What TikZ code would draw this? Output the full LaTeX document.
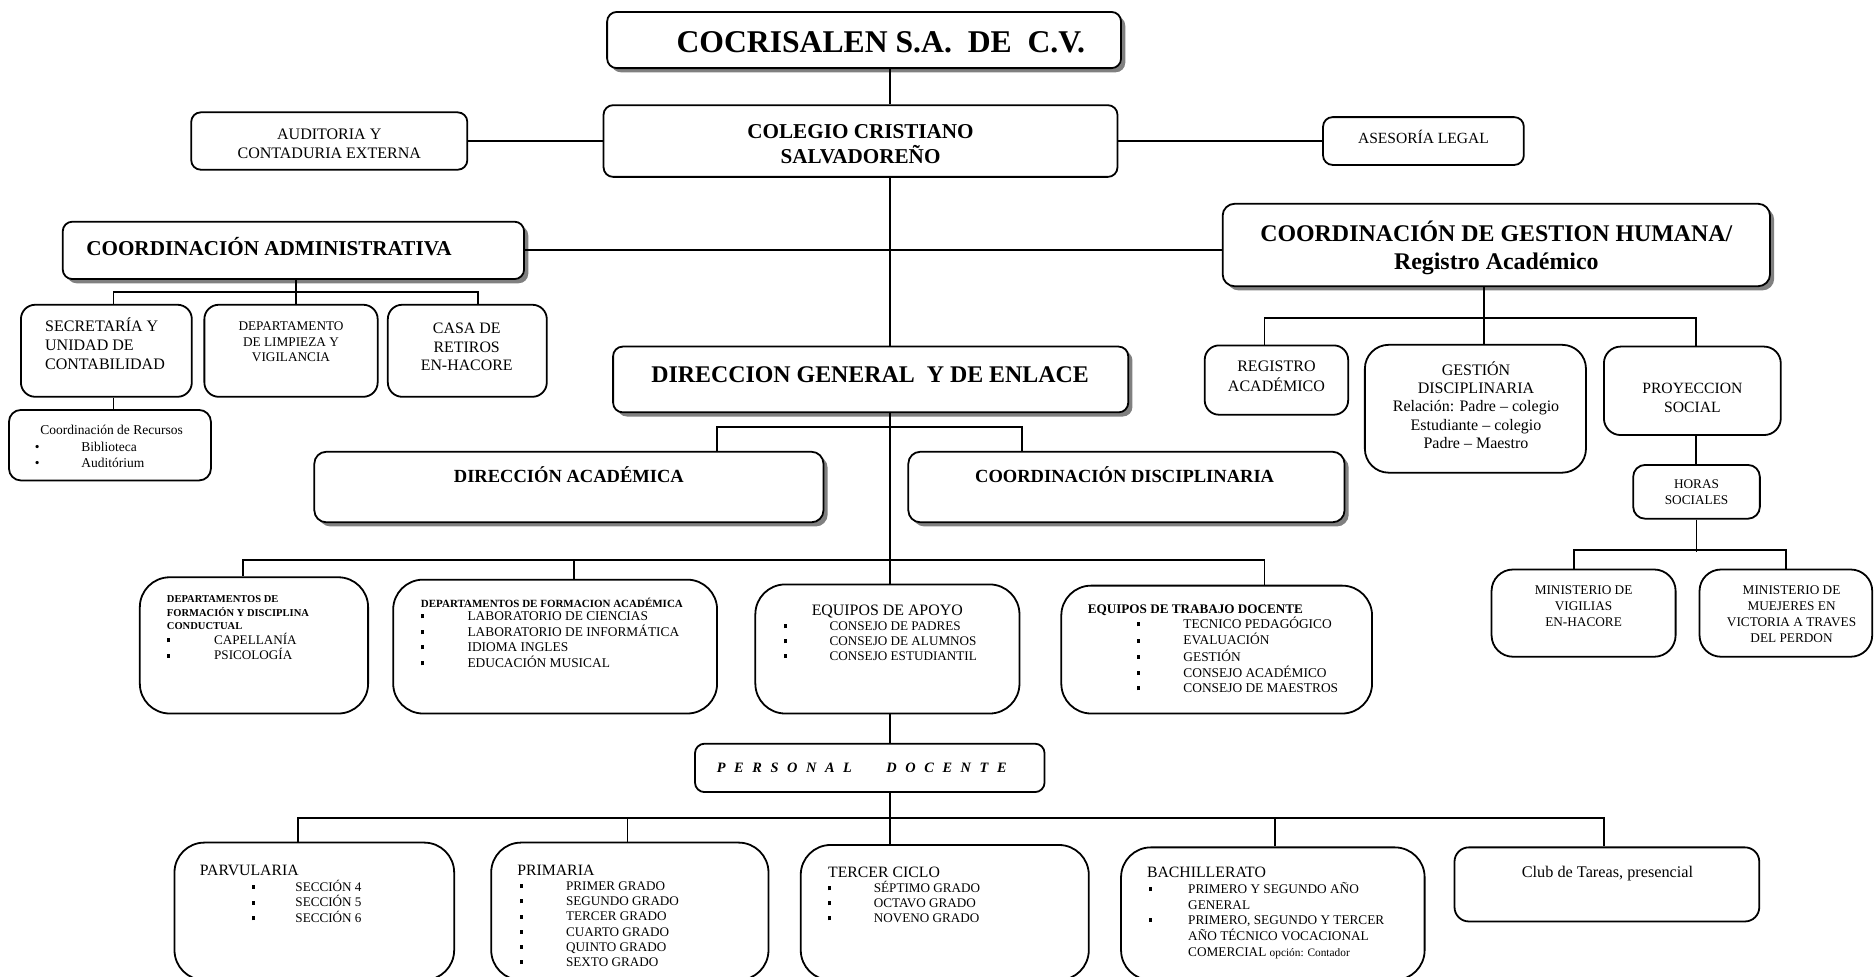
\documentclass[tikz,border=0pt]{standalone}
\usepackage{fontspec}
\setmainfont{Liberation Serif}
\usetikzlibrary{shadows}
\newcommand{\tam}[2]{\fontsize{#1}{#2}\selectfont}
\newcommand{\lin}[2]{\begin{tabular}[t]{@{}#1@{}}#2\end{tabular}}
\newcommand{\cua}{\rule[0.18em]{0.22em}{0.3em}}
\newcommand{\lsp}{\hspace{0.6em}}
\tikzset{
  caja/.style={draw, line width=1.5pt, rounded corners=8pt, fill=white, inner sep=0pt},
  sombra/.style={drop shadow={fill=black!50, opacity=1, shadow xshift=3.5pt, shadow yshift=-3.5pt}},
  linea/.style={line width=1.6pt},
  texto/.style={anchor=base, inner sep=0pt},
  lista/.style={anchor=base west, inner sep=0pt},
}
\begin{document}
\begin{tikzpicture}[x=1pt, y=-1pt]
\useasboundingbox (0,0) rectangle (1568,817);
\coordinate (spine) at (745,0);
% Cajas superiores
\node[caja, sombra, minimum width=430pt, minimum height=47pt] (cocri) at (723,33.5) {};
\node[caja, minimum width=430pt, minimum height=60pt] (colegio) at (720,118) {};
\node[caja, minimum width=231pt, minimum height=48pt] (auditoria) at (275.5,118) {};
\node[caja, minimum width=168pt, minimum height=40pt] (asesoria) at (1191,118) {};
\node[caja, sombra, minimum width=386pt, minimum height=48pt] (coordadm) at (245.5,209.5) {};
\node[caja, sombra, rounded corners=10pt, minimum width=458pt, minimum height=69pt] (gestion) at (1252,205) {};
% Coordinacion administrativa
\node[caja, rounded corners=12pt, minimum width=143pt, minimum height=77pt] (secre) at (89,293.5) {};
\node[caja, rounded corners=12pt, minimum width=145pt, minimum height=77pt] (limpieza) at (243.5,293.5) {};
\node[caja, rounded corners=12pt, minimum width=133pt, minimum height=77pt] (casa) at (391,293.5) {};
\node[caja, rounded corners=10pt, minimum width=169pt, minimum height=59pt] (recursos) at (92,372.5) {};
% Direccion general
\node[caja, sombra, minimum width=431pt, minimum height=55pt] (dirgen) at (728.5,317.5) {};
\node[caja, sombra, rounded corners=10pt, minimum width=426pt, minimum height=59pt] (diracad) at (476,407.5) {};
\node[caja, sombra, rounded corners=10pt, minimum width=365pt, minimum height=59pt] (coorddisc) at (942.5,407.5) {};
% Gestion humana
\node[caja, rounded corners=12pt, minimum width=120pt, minimum height=58pt] (registro) at (1068,318) {};
\node[caja, rounded corners=20pt, minimum width=185pt, minimum height=107pt] (gestdisc) at (1234.5,342) {};
\node[caja, rounded corners=14pt, minimum width=148pt, minimum height=74pt] (proyeccion) at (1416,327) {};
\node[caja, rounded corners=10pt, minimum width=106pt, minimum height=45pt] (horas) at (1419.5,411.5) {};
\node[caja, rounded corners=18pt, minimum width=154pt, minimum height=73pt] (vigilias) at (1325,513) {};
\node[caja, rounded corners=18pt, minimum width=144.5pt, minimum height=73pt] (muejeres) at (1494.25,513) {};
% Departamentos y equipos
\node[caja, rounded corners=25pt, minimum width=191pt, minimum height=114pt] (deptdisc) at (212.5,540) {};
\node[caja, rounded corners=25pt, minimum width=271pt, minimum height=112pt] (deptacad) at (464.5,541) {};
\node[caja, rounded corners=25pt, minimum width=221pt, minimum height=108pt] (apoyo) at (742.5,543) {};
\node[caja, rounded corners=25pt, minimum width=260pt, minimum height=107pt] (trabajo) at (1018,543.5) {};
\node[caja, minimum width=292.5pt, minimum height=40.5pt] (personal) at (727.75,642.5) {};
% Niveles educativos
\node[caja, rounded corners=25pt, minimum width=234pt, minimum height=115pt] (parv) at (263,762.5) {};
\node[caja, rounded corners=25pt, minimum width=232pt, minimum height=115pt] (prim) at (527,762.5) {};
\node[caja, rounded corners=25pt, minimum width=241pt, minimum height=113pt] (tercer) at (790.5,763.5) {};
\node[caja, rounded corners=25pt, minimum width=254pt, minimum height=111pt] (bach) at (1065,764.5) {};
\node[caja, rounded corners=12pt, minimum width=255pt, minimum height=62pt] (club) at (1344.5,740) {};

% Conectores
\draw[linea] (cocri.south -| spine) -- (colegio.north -| spine);
\draw[linea] (colegio.south -| spine) -- (dirgen.north -| spine);
\draw[linea] (auditoria.east) -- (colegio.west);
\draw[linea] (colegio.east) -- (asesoria.west);
\draw[linea] (coordadm.east) -- (coordadm.east -| gestion.west);
\draw[linea] ([xshift=2.5pt]coordadm.south) -- ([xshift=2.5pt]coordadm.south |- limpieza.north);
\draw[linea] ([xshift=6pt]secre.north) -- ++(0,-10) -| ([xshift=9pt]casa.north);
\draw[linea] ([xshift=6pt]secre.south) -- ([xshift=6pt]secre.south |- recursos.north);
\draw[linea] ([xshift=-10pt]gestion.south) -- ([xshift=-10pt]gestion.south |- gestdisc.north);
\draw[linea] ([xshift=-10pt]registro.north) -- ++(0,-22) -| ([xshift=3pt]proyeccion.north);
\draw[linea] ([xshift=3pt]proyeccion.south) -- ([xshift=3pt]proyeccion.south |- horas.north);
\draw[linea] (horas.south) -- ++(0,27);
\draw[linea] ([xshift=-8pt]vigilias.north) -- ++(0,-15.5) -| (muejeres.north);
\draw[linea] ([xshift=124pt]diracad.north) -- ++(0,-20) -| ([xshift=-87.5pt]coorddisc.north);
\draw[linea] (dirgen.south -| spine) -- (apoyo.north -| spine);
\draw[linea] ([xshift=-9.5pt]deptdisc.north) -- ++(0,-14) -| ([xshift=40pt]trabajo.north);
\draw[linea] ([xshift=15.5pt]deptacad.north) -- ++(0,-16);
\draw[linea] (apoyo.south -| spine) -- (personal.north -| spine);
\draw[linea] (personal.south -| spine) -- (tercer.north -| spine);
\draw[linea] ([xshift=-14pt]parv.north) -- ++(0,-19.5) -| ([xshift=-2.5pt]club.north);
\draw[linea] ([xshift=-2pt]prim.north) -- ++(0,-19.5);
\draw[linea] ([xshift=2pt]bach.north) -- ++(0,-23.5);

% Textos
\node[texto, font=\tam{26.5}{30}\bfseries] (tcocri) at (737,43.6) {\lin{c}{COCRISALEN S.A.\ \ DE\ \ C.V.}};
\node[texto, font=\tam{17.7}{20}\bfseries] (tcolegio) at (720,115.8) {\lin{c}{COLEGIO CRISTIANO\\SALVADOREÑO}};
\node[texto, font=\tam{13.4}{16}] (tauditoria) at (275.5,116.4) {\lin{c}{AUDITORIA Y\\CONTADURIA EXTERNA}};
\node[texto, font=\tam{13}{16}] (tasesoria) at (1191,120.3) {\lin{c}{ASESORÍA LEGAL}};
\node[lista, font=\tam{17.7}{20}\bfseries] (tcoordadm) at (72,213.8) {\lin{l}{COORDINACIÓN ADMINISTRATIVA}};
\node[texto, font=\tam{20}{23.8}\bfseries] (tgestion) at (1252,201.8) {\lin{c}{COORDINACIÓN DE GESTION HUMANA/\\Registro Académico}};
\node[lista, font=\tam{13.4}{16}] (tsecre) at (37.6,277.4) {\lin{l}{SECRETARÍA Y\\UNIDAD DE\\CONTABILIDAD}};
\node[texto, font=\tam{11.1}{13}] (tlimpieza) at (243.5,276.7) {\lin{c}{DEPARTAMENTO\\DE LIMPIEZA Y\\VIGILANCIA}};
\node[texto, font=\tam{13.3}{15.5}] (tcasa) at (390.5,279.4) {\lin{c}{CASA DE\\RETIROS\\EN-HACORE}};
\node[lista, font=\tam{11.3}{13.9}] (trecursos) at (29,363.7) {\lin{p{38.8pt}@{}l}{%
  \multicolumn{2}{@{}l@{}}{\hspace*{4.5pt}Coordinación de Recursos}\\
  • & Biblioteca\\
  • & Auditórium}};
\node[texto, font=\tam{20}{23}\bfseries] (tdirgen) at (728,320) {\lin{c}{DIRECCION GENERAL\ \ Y DE ENLACE}};
\node[texto, font=\tam{15.5}{18}\bfseries] (tdiracad) at (476,403.8) {\lin{c}{DIRECCIÓN ACADÉMICA}};
\node[texto, font=\tam{15.5}{18}\bfseries] (tcoorddisc) at (941,403.8) {\lin{c}{COORDINACIÓN DISCIPLINARIA}};
\node[texto, font=\tam{13.4}{16}] (tregistro) at (1068,311.2) {\lin{c}{REGISTRO\\ACADÉMICO}};
\node[texto, font=\tam{13.4}{15.35}] (tgestdisc) at (1235,314) {\lin{c}{GESTIÓN\\DISCIPLINARIA\\Relación: Padre – colegio\\Estudiante – colegio\\Padre – Maestro}};
\node[texto, font=\tam{13.1}{15.8}] (tproyeccion) at (1416,329.3) {\lin{c}{PROYECCION\\SOCIAL}};
\node[texto, font=\tam{11.1}{13.4}] (thoras) at (1419.5,408.7) {\lin{c}{HORAS\\SOCIALES}};
\node[texto, font=\tam{11.1}{13.2}] (tvigilias) at (1325,497.7) {\lin{c}{MINISTERIO DE\\VIGILIAS\\EN-HACORE}};
\node[texto, font=\tam{11.1}{13.2}] (tmuejeres) at (1499,497.7) {\lin{c}{MINISTERIO DE\\MUEJERES EN\\VICTORIA A TRAVES\\DEL PERDON}};
\node[lista, font=\tam{11}{11.1}] (tdeptdisc) at (139.5,504.4) {\lin{p{39.5pt}@{}l}{%
  \multicolumn{2}{@{}l@{}}{\tam{8.8}{11.1}\bfseries DEPARTAMENTOS DE}\\
  \multicolumn{2}{@{}l@{}}{\tam{8.8}{11.1}\bfseries FORMACIÓN Y DISCIPLINA}\\
  \multicolumn{2}{@{}l@{}}{\tam{8.8}{11.1}\bfseries CONDUCTUAL}\\
  \cua & CAPELLANÍA\\
  \cua & PSICOLOGÍA}};
\node[lista, font=\tam{11.2}{12.5}] (tdeptacad) at (352,508) {\lin{p{39pt}@{}l}{%
  \multicolumn{2}{@{}l@{}}{\tam{9.2}{12.5}\bfseries DEPARTAMENTOS DE FORMACION ACADÉMICA}\\[-1pt]
  \cua & LABORATORIO DE CIENCIAS\\
  \cua & LABORATORIO DE INFORMÁTICA\\
  \cua & IDIOMA INGLES\\
  \cua & EDUCACIÓN MUSICAL}};
\node[lista, font=\tam{11}{12.5}] (tapoyo) at (656,515.2) {\lin{p{38pt}@{}l}{%
  \multicolumn{2}{@{}l@{}}{\hspace*{23pt}\tam{13.3}{12.5}EQUIPOS DE APOYO}\\
  \cua & CONSEJO DE PADRES\\
  \cua & CONSEJO DE ALUMNOS\\
  \cua & CONSEJO ESTUDIANTIL}};
\node[lista, font=\tam{11.2}{13}] (ttrabajo) at (910,513.6) {\lin{p{41pt}@{}p{39pt}@{}l}{%
  \multicolumn{3}{@{}l@{}}{\tam{11}{13}\bfseries EQUIPOS DE TRABAJO DOCENTE}\\[-1pt]
  & \cua & TECNICO PEDAGÓGICO\\
  & \cua & EVALUACIÓN\\
  & \cua & GESTIÓN\\
  & \cua & CONSEJO ACADÉMICO\\
  & \cua & CONSEJO DE MAESTROS}};
\node[texto, font=\tam{12}{14}\bfseries\itshape] (tpersonal) at (721,646) {\lin{c}{P\lsp E\lsp R\lsp S\lsp O\lsp N\lsp A\lsp L\hspace{2.4em}D\lsp O\lsp C\lsp E\lsp N\lsp T\lsp E}};
\node[lista, font=\tam{11}{12.6}] (tparv) at (167,732.4) {\lin{p{44pt}@{}p{36pt}@{}l}{%
  \multicolumn{3}{@{}l@{}}{\tam{13.2}{12.6}PARVULARIA}\\
  & \cua & SECCIÓN 4\\
  & \cua & SECCIÓN 5\\
  & \cua & SECCIÓN 6}};
\node[lista, font=\tam{11}{12.7}] (tprim) at (432.6,732.4) {\lin{p{2.4pt}@{}p{38.5pt}@{}l}{%
  \multicolumn{3}{@{}l@{}}{\tam{13.2}{12.7}PRIMARIA}\\
  & \cua & PRIMER GRADO\\
  & \cua & SEGUNDO GRADO\\
  & \cua & TERCER GRADO\\
  & \cua & CUARTO GRADO\\
  & \cua & QUINTO GRADO\\
  & \cua & SEXTO GRADO}};
\node[lista, font=\tam{11}{12.5}] (ttercer) at (692.7,733.8) {\lin{p{38.3pt}@{}l}{%
  \multicolumn{2}{@{}l@{}}{\tam{13.2}{12.5}TERCER CICLO}\\
  \cua & SÉPTIMO GRADO\\
  \cua & OCTAVO GRADO\\
  \cua & NOVENO GRADO}};
\node[lista, font=\tam{11.1}{13}] (tbach) at (959.5,734.4) {\lin{p{1.5pt}@{}p{33pt}@{}l}{%
  \multicolumn{3}{@{}l@{}}{\tam{13.2}{13}BACHILLERATO}\\
  & \cua & PRIMERO Y SEGUNDO AÑO\\
  & & GENERAL\\
  & \cua & PRIMERO, SEGUNDO Y TERCER\\
  & & AÑO TÉCNICO VOCACIONAL\\
  & & COMERCIAL {\tam{9.5}{13}opción: Contador}}};
\node[texto, font=\tam{13.6}{16}] (tclub) at (1345,734.5) {\lin{c}{Club de Tareas, presencial}};
\end{tikzpicture}
\end{document}
